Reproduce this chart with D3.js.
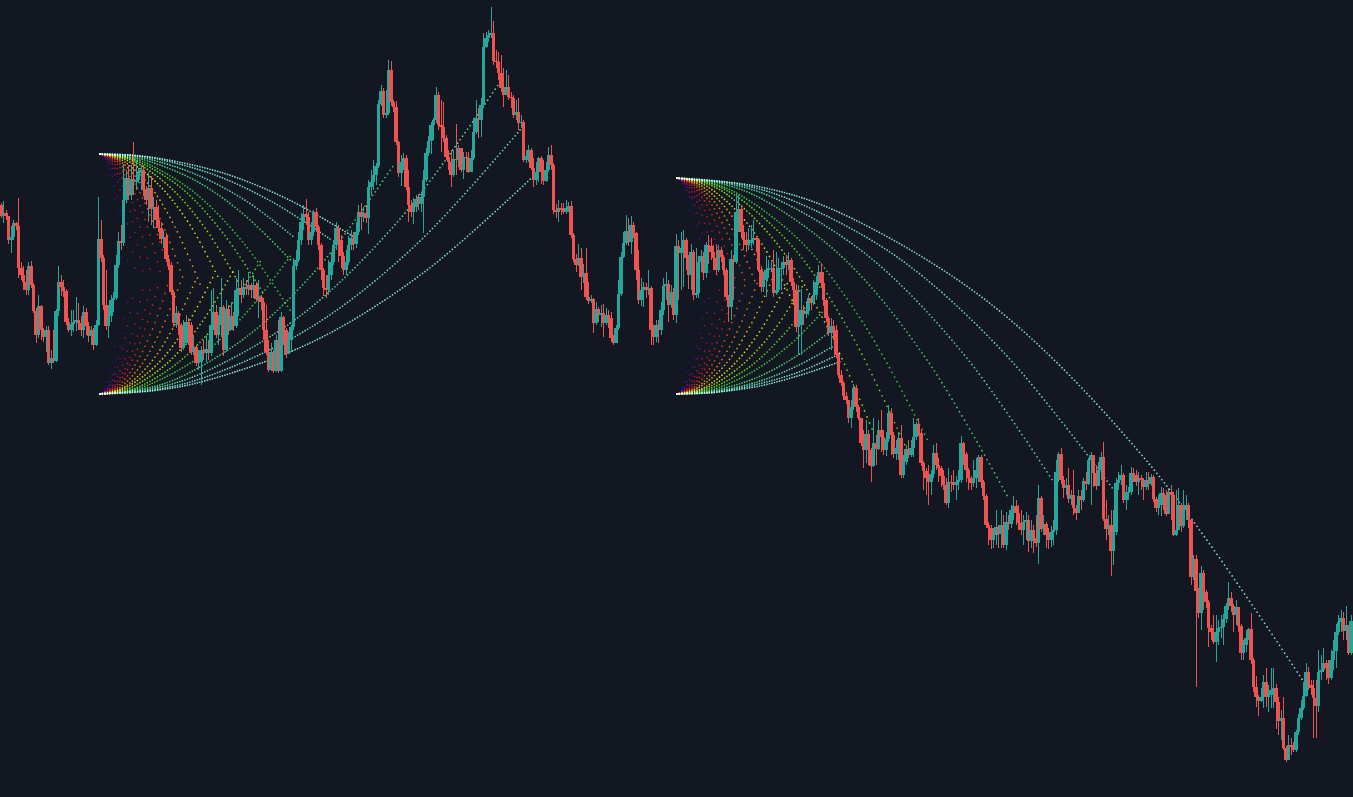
<!DOCTYPE html>
<html>
<head>
<meta charset="utf-8">
<script src="https://cdn.jsdelivr.net/npm/d3@7"></script>
<style>
html,body{margin:0;padding:0;background:#131722;overflow:hidden}
svg{display:block}
</style>
</head>
<body>
<script>
const firstOpen = 595;
const closes = [
584,587,584,560,563,577,574,532,525,518,
510,534,515,489,465,494,470,463,470,437,
442,439,489,518,513,509,478,470,476,478,
480,477,470,488,474,464,470,455,475,561,
542,495,474,484,500,502,535,559,557,600,
622,605,621,618,620,627,630,610,600,612,
591,593,580,572,561,563,541,535,508,477,
487,475,452,457,478,475,448,453,437,438,
450,447,451,447,475,488,465,475,493,450,
491,470,484,474,510,512,505,513,511,515,
510,515,501,503,498,470,448,430,448,429,
460,429,483,470,446,460,473,534,540,560,
578,586,583,560,568,588,573,555,530,512,
510,525,538,555,572,560,544,530,538,555,
562,556,568,588,583,587,582,613,618,625,
634,696,709,685,687,730,698,693,658,627,
638,642,613,595,588,593,601,596,603,620,
647,659,675,680,705,675,673,662,643,638,
625,641,640,652,630,643,642,628,642,668,
682,680,695,753,762,765,767,739,738,727,
712,705,713,703,702,685,688,677,678,640,
644,650,632,620,628,642,628,619,630,645,
635,590,588,592,590,588,592,594,565,541,
535,542,523,527,503,499,501,477,491,485,
487,477,485,482,462,457,472,506,543,557,
569,558,575,567,530,500,510,513,510,512,
470,463,475,470,490,514,516,495,508,485,
554,547,552,560,542,525,548,505,507,538,
544,527,555,554,548,542,530,550,543,530,
503,493,541,538,588,591,568,560,555,557,
560,562,560,530,513,520,530,532,532,507,
510,532,532,538,535,540,518,510,473,475,
490,486,489,502,497,505,518,528,517,500,
482,467,474,470,445,425,417,404,400,382,
393,412,393,382,357,350,366,350,334,357,
351,370,363,350,361,387,365,346,352,362,
325,338,351,345,352,363,376,367,337,329,
322,318,326,347,335,332,324,315,297,318,
317,315,318,320,357,346,330,322,317,322,
330,343,318,304,275,272,260,265,273,266,
275,255,278,276,290,294,287,277,270,278,
280,259,270,262,257,302,271,276,265,260,
268,270,328,346,320,312,315,301,305,292,
287,304,300,319,316,340,345,327,314,330,
343,281,271,275,249,268,317,320,325,300,
308,308,327,325,318,322,320,313,320,316,
323,301,292,295,307,305,286,308,305,265,
270,295,274,290,295,280,223,241,209,187,
227,208,198,172,168,158,168,172,173,181,
194,202,194,185,193,174,147,155,162,171,
140,113,103,99,103,118,103,105,110,112,
98,79,82,52,40,55,53,50,68,82,
92,104,128,115,112,102,94,128,130,137,
132,122,140,149,168,178,182,169,175,147,
179];
const highs = [
597,599,590,584,574,580,578,602,538,534,
530,538,539,517,492,505,495,472,474,474,
450,470,491,534,525,520,511,482,490,490,
503,497,484,494,492,478,474,472,480,603,
580,545,530,495,505,508,545,568,575,636,
630,635,635,658,640,632,635,635,614,628,
624,603,600,595,578,570,567,545,538,510,
494,489,477,480,485,482,478,465,455,450,
454,460,465,460,510,512,495,485,522,495,
500,495,498,488,522,530,520,522,520,528,
517,525,518,520,505,502,495,460,457,450,
465,480,488,484,472,468,475,542,550,568,
587,595,601,588,578,590,592,575,557,532,
525,540,548,560,578,575,565,548,550,564,
570,568,578,595,597,593,595,620,630,640,
637,700,715,712,710,740,739,700,699,659,
645,647,645,630,600,602,605,606,608,630,
652,664,678,682,713,708,700,698,665,650,
650,650,676,655,652,648,648,648,650,682,
700,692,702,767,768,770,793,779,750,748,
745,732,730,725,708,705,700,702,685,680,
650,655,652,642,638,643,644,640,638,653,
655,637,596,600,597,597,600,598,599,567,
546,556,552,536,552,518,505,502,498,493,
495,496,492,490,488,465,475,520,548,568,
585,582,584,578,568,550,522,518,517,530,
514,475,480,480,498,522,528,520,515,512,
566,560,568,570,562,545,556,550,552,544,
550,548,558,565,562,555,556,555,553,545,
532,505,550,545,606,605,595,575,568,572,
575,580,564,562,534,528,544,540,538,550,
548,542,538,544,545,548,542,522,516,515,
511,495,499,505,504,520,524,535,537,528,
502,484,482,480,475,447,430,419,408,395,
400,416,415,395,382,370,380,370,352,382,
365,380,390,370,368,395,392,368,360,368,
375,345,355,360,360,382,378,382,370,339,
332,335,330,355,357,342,334,330,322,332,
325,330,324,330,364,358,348,332,324,340,
342,345,345,320,306,278,275,272,290,275,
290,285,288,285,295,304,300,295,290,285,
288,285,280,275,285,315,304,285,278,272,
274,280,340,348,352,324,322,332,310,330,
295,310,310,322,328,342,348,344,335,338,
348,358,300,285,290,290,322,328,335,327,
315,313,333,332,330,328,325,322,328,328,
326,325,303,305,313,312,310,312,315,308,
310,312,297,310,305,297,280,245,245,212,
234,230,210,200,175,185,185,180,185,186,
197,218,208,196,200,190,176,160,170,172,
187,142,124,105,112,125,132,115,132,132,
116,103,90,103,54,65,62,58,70,86,
100,118,137,133,120,120,120,150,145,152,
140,140,150,160,176,185,190,188,194,175,
185];
const lows = [
582,577,580,556,547,560,570,522,520,510,
505,505,512,487,457,462,460,458,448,435,
431,437,438,484,504,503,475,468,464,468,
469,470,464,462,465,458,455,450,454,474,
538,490,470,462,478,488,500,532,550,554,
597,600,600,605,610,617,610,604,595,578,
575,572,572,568,556,552,538,530,505,473,
472,465,448,450,455,455,445,445,434,430,
415,440,438,440,444,470,462,455,463,444,
448,465,475,469,472,484,497,502,505,505,
502,502,498,482,490,460,445,428,429,427,
428,427,428,455,442,448,448,470,530,538,
555,570,575,555,555,564,568,550,520,504,
502,505,520,535,550,538,532,525,525,535,
550,550,552,565,570,578,577,566,605,610,
615,632,694,682,682,685,694,688,655,623,
614,630,610,578,583,576,588,590,588,567,
618,644,646,660,677,670,648,658,640,630,
613,623,625,633,628,621,628,627,628,640,
666,662,663,692,752,758,762,735,732,720,
708,693,708,700,692,682,680,670,672,638,
637,638,630,613,615,618,616,615,618,628,
630,586,582,578,585,586,586,588,562,538,
528,534,510,517,500,496,497,467,475,478,
473,463,475,472,458,455,457,470,504,542,
555,554,546,562,520,496,494,493,502,505,
455,455,458,457,465,485,500,478,492,480,
477,500,510,513,530,511,510,500,502,502,
528,520,522,536,540,530,525,528,538,525,
500,478,480,500,536,568,562,550,548,550,
552,555,548,528,508,508,503,522,528,503,
505,508,510,525,525,530,514,495,468,445,
445,475,482,485,490,495,500,515,512,494,
478,464,450,460,442,422,414,400,396,377,
372,390,388,380,354,332,337,335,318,333,
335,350,348,345,344,358,345,342,340,340,
322,322,335,342,343,343,360,364,334,310,
305,295,305,322,330,318,313,310,295,292,
308,310,300,310,317,335,318,310,310,313,
312,318,312,300,272,255,251,252,255,252,
252,252,250,270,272,280,275,270,265,255,
260,248,252,247,253,236,268,265,252,251,
253,255,265,318,316,302,305,297,295,285,
280,287,290,298,310,315,295,313,310,314,
320,279,260,265,224,235,265,310,315,297,
290,300,305,318,314,305,310,300,310,310,
314,298,288,285,284,290,284,288,280,264,
264,288,268,272,280,272,215,220,113,182,
170,190,192,153,160,156,138,155,162,155,
177,190,188,168,175,168,140,140,148,160,
136,108,93,84,98,92,93,88,92,92,
71,65,60,50,38,42,45,48,48,65,
80,90,103,110,105,62,62,88,120,128,
120,116,120,130,132,165,168,160,160,145,
145];

/* Fan curves: [span in bars, price at 1/8, 1/4, 1/2, 3/4 and the end of the span] */
const spanStops = [0.125, 0.25, 0.5, 0.75, 1];
const fan1Anchor = 39.6, fan2Anchor = 270.4;
const fan1Top = 646, fan1Bottom = 406, fan2Top = 622, fan2Bottom = 406;
const fan1Upper = [
[101,645,641,626,600,564],[92,645,641,625,598,561],[78,645,641,625,599,562],[77,644,639,619,585,538],
[77,643.5,636,606,556,486],[66,644,637,611,566,504],[56,644,638,613,572,515],[48,644,638,614,575,519],
[40,644,638,614,573,516],[34,644,638,614,573,516],[29,644,638,614,574,518],[25,644,638,614,575,519],
[21,644,638,614,575,520],[18,644,638,614,573,516],[15,644,638,614,573,516],[12,644,638,614,575,520],[10,644,638,614,575,519]];
const fan1Lower = [
[173,409.4,420,460,528,623],[169,410,423,473,556,673],[160,411,426,484,581,718],[118,410,420,464,536,637],
[77,408,415,441,485,547],[65,408,414,440,483,542],[54,408,414,437,477,532],[46,408,414,436,474,527],
[39,408,413,435,472,524],[33,408,413,435,472,523],[28,408,413,435,471,522],[24,408,413,435,471,521],
[21,408,413,434,470,520],[18,408,413,435,471,522],[14,408,413,433,468,516],[12,408,413,433,467,515],[9,408,413,433,466,512]];
const fan2Upper = [
[251,614,590,496,338,117],[175,617,602,544,446,309],[152,617,603,545,448,313],[133,617,602,542,441,300],
[101,618,605,556,472,356],[92,618,605,554,469,350],[79,618,606,558,477,365],[47,620,614,590,551,495],
[37,620,615,595,561,514],[32,620,615,595,561,513],[28,620,615,595,561,513],[24,620,615,595,561,514],
[20,620,615,595,561,514],[17,620,615,595,561,514],[14,620,615,595,561,514],[12,620,615,595,561,514],[9,620,615,595,561,514]];
const fan2Lower = [
[66,406.5,408,414,425,439],[65,406.6,408,416,428,446],[64,406.8,409,418,434,456],[63,407,410,422,443,472],
[60,407.4,411,428,455,493],[59,407.8,413,434,470,520],[51,407.8,413,434,468,517],[45,408,413,435,471,521],
[39,408,414,436,474,526],[33,408,413,435,472,523],[28,408,413,435,471,522],[24,408,413,435,471,521],
[21,408,413,434,470,520],[18,408,413,435,471,522],[14,408,413,433,468,516],[12,408,413,433,467,515],[9,408,413,433,466,512]];
const fanColors = ["#86e4d6","#6edcc0","#5cd8a0","#48d070","#38c83c","#66d422","#a4d816","#dcdc14",
"#e6ac14","#e67c14","#e44c14","#dc1c1c","#c01030","#a01058","#801078","#501084","#2c1084"];

const W = 1353, H = 797;
const upColor = "#26a69a", downColor = "#ef5350";
const x = d3.scaleLinear().domain([0, 540]).range([1, 1351]);
const y = d3.scaleLinear().domain([0, 800]).range([800, 0]);
const svg = d3.select("body").append("svg").attr("width", W).attr("height", H)
  .style("background", "#131722");

const fans = [
  {anchor: fan1Anchor, start: fan1Top, rows: fan1Upper},
  {anchor: fan1Anchor, start: fan1Bottom, rows: fan1Lower},
  {anchor: fan2Anchor, start: fan2Top, rows: fan2Upper},
  {anchor: fan2Anchor, start: fan2Bottom, rows: fan2Lower}
];
const line = d3.line().x(d => x(d[0])).y(d => y(d[1])).curve(d3.curveCatmullRom.alpha(0.5));

function dashPerBar(node, anchor, span) {
  const total = node.getTotalLength();
  const parts = [];
  let prev = 0;
  for (let b = 1; b <= span; b++) {
    const tx = x(anchor + b);
    let lo = prev, hi = total;
    for (let it = 0; it < 18; it++) {
      const mid = (lo + hi) / 2;
      if (node.getPointAtLength(mid).x < tx) lo = mid; else hi = mid;
    }
    parts.push("0", (hi - prev).toFixed(2));
    prev = hi;
  }
  parts.push("0", "9999");
  return parts.join(" ");
}

const gFans = svg.append("g").attr("class", "fans").style("isolation", "isolate");
fans.forEach(f => {
  f.rows.map((r, k) => ({r, k})).reverse().forEach(({r, k}) => {
    const pts = [[f.anchor, f.start]];
    r.slice(1).forEach((p, j) => pts.push([f.anchor + r[0] * spanStops[j], p]));
    const path = gFans.append("path")
      .attr("d", line(pts))
      .attr("fill", "none")
      .attr("stroke", fanColors[k])
      .attr("stroke-width", 1.7)
      .attr("stroke-linecap", "round")
      .style("mix-blend-mode", "screen");
    path.attr("stroke-dasharray", dashPerBar(path.node(), f.anchor, r[0]));
  });
});

const bars = closes.map((c, i) => ({
  i, c, o: i === 0 ? firstOpen : closes[i - 1], h: highs[i], l: lows[i]
}));
const candle = svg.append("g").attr("class", "candles").selectAll("g").data(bars).join("g")
  .attr("fill", d => d.c >= d.o ? upColor : downColor)
  .attr("shape-rendering", "crispEdges");
candle.append("rect")
  .attr("x", d => x(d.i) - 0.5).attr("width", 1)
  .attr("y", d => y(Math.max(d.h, d.o, d.c)))
  .attr("height", d => y(Math.min(d.l, d.o, d.c)) - y(Math.max(d.h, d.o, d.c)));
candle.append("rect")
  .attr("x", d => x(d.i) - 1.75).attr("width", 3.5)
  .attr("y", d => y(Math.max(d.o, d.c)))
  .attr("height", d => Math.max(1, Math.abs(y(d.o) - y(d.c))));
</script>
</body>
</html>
